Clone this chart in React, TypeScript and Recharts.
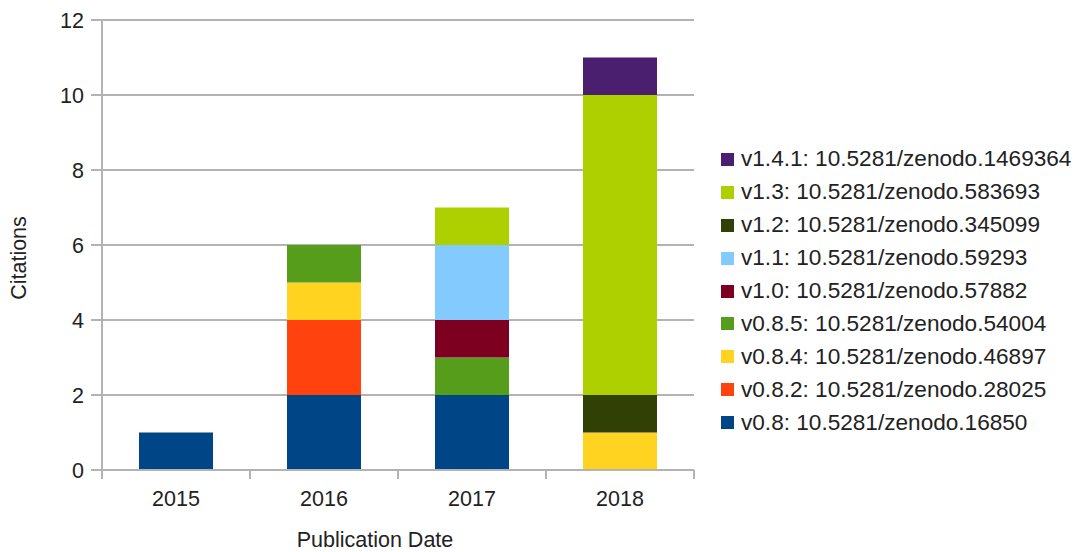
import { Bar, BarChart, CartesianGrid, XAxis, YAxis } from "recharts";

const years = ["2015", "2016", "2017", "2018"];

// citations per release, per publication year
const v08 = [1, 2, 2, 0];
const v082 = [0, 2, 0, 0];
const v084 = [0, 1, 0, 1];
const v085 = [0, 1, 1, 0];
const v10 = [0, 0, 1, 0];
const v11 = [0, 0, 2, 0];
const v12 = [0, 0, 0, 1];
const v13 = [0, 0, 1, 8];
const v141 = [0, 0, 0, 1];

const yTicks = [0, 2, 4, 6, 8, 10, 12];

const series = [
  { key: "v08", name: "v0.8: 10.5281/zenodo.16850", values: v08, color: "#004586" },
  { key: "v082", name: "v0.8.2: 10.5281/zenodo.28025", values: v082, color: "#ff420e" },
  { key: "v084", name: "v0.8.4: 10.5281/zenodo.46897", values: v084, color: "#ffd320" },
  { key: "v085", name: "v0.8.5: 10.5281/zenodo.54004", values: v085, color: "#579d1c" },
  { key: "v10", name: "v1.0: 10.5281/zenodo.57882", values: v10, color: "#7e0021" },
  { key: "v11", name: "v1.1: 10.5281/zenodo.59293", values: v11, color: "#83caff" },
  { key: "v12", name: "v1.2: 10.5281/zenodo.345099", values: v12, color: "#314004" },
  { key: "v13", name: "v1.3: 10.5281/zenodo.583693", values: v13, color: "#aecf00" },
  { key: "v141", name: "v1.4.1: 10.5281/zenodo.1469364", values: v141, color: "#4b1f6f" },
];

const data = years.map((year, i) => {
  const row: Record<string, string | number> = { year };
  series.forEach((s) => {
    row[s.key] = s.values[i];
  });
  return row;
});

const FONT = "'Liberation Sans', Arial, sans-serif";
const TEXT = "#222";
const GRID = "#b3b3b3";

// label in the middle of the band, tick marks on the band edges
const XTick = (props: any) => {
  const { x, y, payload, index, visibleTicksCount } = props;
  const off = payload.offset ?? 0;
  const axisY = y - 21;
  const last = index === visibleTicksCount - 1;
  return (
    <g>
      <line x1={x - off} x2={x - off} y1={axisY} y2={axisY + 9} stroke={GRID} strokeWidth={2} />
      {last && <line x1={x + off} x2={x + off} y1={axisY} y2={axisY + 9} stroke={GRID} strokeWidth={2} />}
      <text x={x} y={y} dy="0.71em" textAnchor="middle" fill={TEXT} fontSize={21.5} fontFamily={FONT}>
        {payload.value}
      </text>
    </g>
  );
};

export default function App() {
  return (
    <div style={{ width: 1076, height: 552, background: "#fff", position: "relative" }}>
      <style>{`body{margin:0}`}</style>
      <BarChart
        width={1076}
        height={552}
        data={data}
        margin={{ top: 20, right: 382, bottom: 0, left: 0 }}
        barCategoryGap="25%"
      >
        <CartesianGrid vertical={false} stroke={GRID} strokeWidth={2} />
        <XAxis
          dataKey="year"
          height={82}
          stroke={GRID}
          strokeWidth={2}
          tickLine={false}
          tickSize={9}
          tickMargin={12}
          tick={<XTick />}
          interval={0}
          label={({ viewBox }: any) => (
            <text x={375} y={viewBox.y + 77} textAnchor="middle" fill={TEXT} fontSize={21.5} fontFamily={FONT}>
              Publication Date
            </text>
          )}
        />
        <YAxis
          width={102}
          domain={[0, 12]}
          ticks={yTicks}
          interval={0}
          stroke={GRID}
          strokeWidth={2}
          tickSize={11}
          tickMargin={7}
          tick={{ fill: TEXT, fontSize: 21.5, fontFamily: FONT }}
          label={() => (
            <text
              x={26}
              y={258}
              transform="rotate(-90 26 258)"
              textAnchor="middle"
              fill={TEXT}
              fontSize={21.5}
              fontFamily={FONT}
            >
              Citations
            </text>
          )}
        />
        {series.map((s) => (
          <Bar key={s.key} dataKey={s.key} name={s.name} stackId="a" fill={s.color} isAnimationActive={false} />
        ))}
      </BarChart>
      <div
        style={{
          position: "absolute",
          left: 721,
          top: 143,
          fontFamily: FONT,
          fontSize: 22.6,
          color: TEXT,
        }}
      >
        {[...series].reverse().map((s) => (
          <div key={s.key} style={{ display: "flex", alignItems: "center", height: 32.9, whiteSpace: "nowrap" }}>
            <span style={{ width: 13, height: 13, background: s.color, display: "inline-block", marginRight: 7 }} />
            <span>{s.name}</span>
          </div>
        ))}
      </div>
    </div>
  );
}
